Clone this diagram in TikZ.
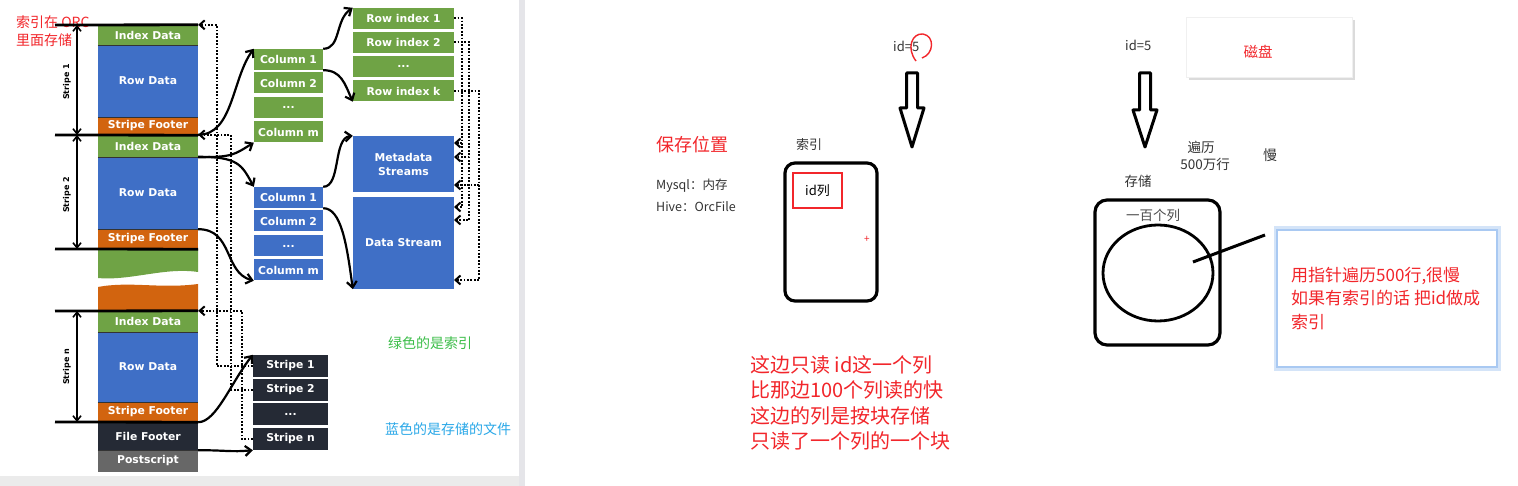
\documentclass[tikz,border=0pt]{standalone}
\usepackage{fontspec}
\newfontfamily\cjk{Noto Sans CJK SC}
\newfontfamily\orcf{DejaVu Sans}
\usepackage{tikz}
\usetikzlibrary{arrows.meta,shapes.geometric}
\definecolor{idxgreen}{HTML}{6FA345}
\definecolor{rowblue}{HTML}{3F6FC6}
\definecolor{ftorange}{HTML}{D2640F}
\definecolor{darkbox}{HTML}{252A35}
\definecolor{psgray}{HTML}{676767}
\definecolor{notered}{HTML}{F2262B}
\definecolor{notegreen}{HTML}{3DBE4A}
\definecolor{noteblue}{HTML}{2AA8E8}
\definecolor{inkgray}{HTML}{333333}
\definecolor{glowblue}{HTML}{A9C9F2}
\newcommand{\orcfont}{\orcf\bfseries\fontsize{10.8}{14}\selectfont}
\newcommand{\stripefont}{\orcf\bfseries\fontsize{8}{9}\selectfont}
\newcommand{\cjksz}[2]{\cjk\fontsize{#1}{#2}\selectfont}
\newcommand{\dnarrow}[4]{\draw[hand] (#1-5.5,#2) -- (#1+5.5,#2) -- (#1+5.5,#3) -- (#1+12,#3) -- (#1,#4) -- (#1-12,#3) -- (#1-5.5,#3) -- cycle;}
\tikzset{
  blk/.style={minimum width=100pt, inner sep=0pt, text=white, font=\orcfont},
  colbox/.style={minimum width=69pt, minimum height=21pt, inner sep=0pt, text=white, font=\orcfont},
  rixbox/.style={minimum width=101pt, minimum height=21pt, inner sep=0pt, text=white, font=\orcfont, fill=idxgreen},
  stbox/.style={minimum width=75pt, minimum height=22pt, inner sep=0pt, text=white, font=\orcfont, fill=darkbox},
  bndline/.style={line width=2.8pt},
  sepline/.style={line width=0.8pt, black!80},
  spanarr/.style={line width=1.6pt, {Straight Barb[length=5pt,width=8pt]}-{Straight Barb[length=5pt,width=8pt]}},
  curv/.style={line width=2.2pt, -{Straight Barb[length=6pt,width=10pt]}},
  ptr/.style={line width=2pt, dash pattern=on 1.8pt off 1.6pt, -{Straight Barb[length=5pt,width=9pt]}},
  hand/.style={line width=3pt, line join=round},
  say/.style={anchor=west, inner sep=0pt}
}
\begin{document}
\begin{tikzpicture}[x=1pt,y=-1pt]
\useasboundingbox (0,0) rectangle (1518,486);
\fill[white] (0,0) rectangle (1518,486);
\fill[black!8] (0,476) rectangle (520,486);
\fill[blue!12!black!10] (519,0) rectangle (525,486);

% orc file layout
\node[say, align=left, font=\cjksz{14}{18}, text=notered] (orcnote) at (16,31) {索引在 ORC\\里面存储};
\node[blk, fill=idxgreen, minimum height=20pt] (id1) at (148,35) {Index Data};
\node[blk, fill=rowblue, minimum height=72pt] (rd1) at (148,81) {Row Data};
\node[blk, fill=ftorange, minimum height=18pt] (sf1) at (148,126) {Stripe Footer};
\node[blk, fill=idxgreen, minimum height=22pt] (id2) at (148,146) {Index Data};
\node[blk, fill=rowblue, minimum height=72pt] (rd2) at (148,193) {Row Data};
\node[blk, fill=ftorange, minimum height=20pt] (sf2) at (148,239) {Stripe Footer};
\fill[idxgreen] (98,249) -- (198,249) -- (198,272) .. controls (165,267) and (130,281) .. (98,278) -- cycle;
\fill[ftorange] (98,287) .. controls (130,281) and (160,289) .. (198,284) -- (198,311) -- (98,311) -- cycle;
\node[blk, fill=idxgreen, minimum height=21pt] (idn) at (148,321.5) {Index Data};
\node[blk, fill=rowblue, minimum height=70pt] (rdn) at (148,367) {Row Data};
\node[blk, fill=ftorange, minimum height=20pt] (sfn) at (148,412) {Stripe Footer};
\node[blk, fill=darkbox, minimum height=28pt] (ff) at (148,436) {File Footer};
\node[blk, fill=psgray, minimum height=22pt] (ps) at (148,461) {Postscript};
\foreach \b in {id1,rd1,id2,rd2,idn,rdn,sfn,ff} \draw[sepline] (\b.south west) -- (\b.south east);

\coordinate (b0) at (55,25); \coordinate (b1) at (55,135); \coordinate (b2) at (55,249);
\coordinate (b3) at (55,311); \coordinate (b4) at (55,422);
\draw[bndline] (b0) -- (id1.north east);
\draw[bndline] (b1) -- (sf1.south east);
\draw[bndline] (b2) -- (sf2.south east);
\draw[bndline] (b3) -- (idn.north east);
\draw[bndline] (b4) -- (sfn.south east);
\draw[spanarr] ([xshift=22pt]b0) -- ([xshift=22pt]b1);
\draw[spanarr] ([xshift=22pt]b1) -- ([xshift=22pt]b2);
\draw[spanarr] ([xshift=22pt]b3) -- ([xshift=22pt]b4);
\node[rotate=90, font=\stripefont] (lbs1) at (67,82) {Stripe 1};
\node[rotate=90, font=\stripefont] (lbs2) at (67,195) {Stripe 2};
\node[rotate=90, font=\stripefont] (lbsn) at (67,367) {Stripe n};

% columns, streams, stripes
\node[colbox, fill=idxgreen] (gc1) at (288.5,59.5) {Column 1};
\node[colbox, fill=idxgreen] (gc2) at (288.5,83) {Column 2};
\node[colbox, fill=idxgreen] (gc3) at (288.5,107.5) {...};
\node[colbox, fill=idxgreen] (gc4) at (288.5,132) {Column m};
\node[colbox, fill=rowblue] (bc1) at (288.5,197.5) {Column 1};
\node[colbox, fill=rowblue] (bc2) at (288.5,221) {Column 2};
\node[colbox, fill=rowblue] (bc3) at (288.5,246) {...};
\node[colbox, fill=rowblue] (bc4) at (288.5,270) {Column m};
\node[rixbox] (ri1) at (403.5,18.5) {Row index 1};
\node[rixbox] (ri2) at (403.5,42.5) {Row index 2};
\node[rixbox] (ri3) at (403.5,66.5) {...};
\node[rixbox] (rik) at (403.5,91) {Row index k};
\node[blk, fill=rowblue, minimum width=101pt, minimum height=56pt, align=center] (meta) at (403.5,164) {Metadata\\Streams};
\node[blk, fill=rowblue, minimum width=101pt, minimum height=92pt] (dstr) at (403.5,243) {Data Stream};
\node[stbox] (st1) at (290.5,366) {Stripe 1};
\node[stbox] (st2) at (290.5,390) {Stripe 2};
\node[stbox] (st3) at (290.5,414) {...};
\node[stbox] (stn) at (290.5,439) {Stripe n};

\draw[curv] (id2.north east) .. controls +(35,0) and +(-22,30) .. (gc1.north west);
\draw[curv] (id2.south east) .. controls +(35,0) and +(-20,12) .. (gc4.south west);
\draw[curv] (rd2.north east) .. controls +(40,0) and +(-12,-22) .. (bc1.north west);
\draw[curv] (rd2.south east) .. controls +(35,0) and +(-30,-8) .. (bc4.south west);
\draw[curv] (gc1.north east) .. controls +(18,0) and +(-18,12) .. (ri1.north west);
\draw[curv] (gc1.south east) .. controls +(18,0) and +(-8,-18) .. (rik.south west);
\draw[curv] (bc1.north east) .. controls +(18,0) and +(-20,2) .. (meta.north west);
\draw[curv] (bc1.south east) .. controls +(18,0) and +(-6,-45) .. (dstr.south west);
\draw[curv] (sfn.south east) .. controls +(18,0) and +(-22,28) .. (st1.north west);
\draw[curv] (ff.south east) .. controls +(28,0) and +(-22,2) .. (stn.south west);

\draw[ptr] (st1.west) -- ++(-36,0) |- (id1.north east);
\draw[ptr] (st2.west) -- ++(-22,0) |- (id2.north east);
\draw[ptr] (stn.west) -- ++(-11,0) |- (idn.north east);
\coordinate (m1) at (454,143); \coordinate (m2) at (454,157); \coordinate (m3) at (454,185);
\coordinate (s1) at (454,207); \coordinate (s2) at (454,220); \coordinate (s3) at (454,280);
\draw[ptr] (ri1.east) -- ++(8,0) |- (m1);
\draw[ptr] (ri1.east) -- ++(8,0) |- (s1);
\draw[ptr] (ri2.east) -- ++(15,0) |- (m2);
\draw[ptr] (ri2.east) -- ++(15,0) |- (s2);
\draw[ptr] (rik.east) -- ++(25,0) |- (m3);
\draw[ptr] (rik.east) -- ++(25,0) |- (s3);

\node[say, font=\cjksz{14}{16}, text=notegreen] (greennote) at (388,343) {绿色的是索引};
\node[say, font=\cjksz{14}{16}, text=noteblue] (bluenote) at (385,429) {蓝色的是存储的文件};

% whiteboard: index side
\node[say, font=\cjksz{13}{15}, text=inkgray] (q1) at (893,46) {id=5};
\draw[notered, line width=1.4pt] (916,61) .. controls (906,48) and (912,33) .. (923,34) .. controls (935,36) and (934,54) .. (922,58);
\dnarrow{912}{73}{108}{147}
\node[say, font=\cjksz{18}{20}, text=notered] (savepos) at (656,145) {保存位置};
\node[say, font=\cjksz{13}{15}, text=inkgray] (idxlbl) at (796,145) {索引};
\node[say, font=\cjksz{12.5}{15}, text=inkgray] (mysql) at (656,186) {Mysql：内存};
\node[say, font=\cjksz{12.5}{15}, text=inkgray] (hive) at (656,207) {Hive：OrcFile};
\node[draw, line width=3.2pt, rounded corners=10pt, minimum width=92pt, minimum height=138pt] (idxbox) at (831,232) {};
\node[draw=notered, line width=1.6pt, minimum width=49pt, minimum height=35pt, inner sep=0pt, font=\cjksz{13}{15}] (idcol) at (817.5,190.5) {id列};
\node[text=notered, font=\cjksz{10}{12}] (plus) at (867,239) {+};
\node[say, align=left, font=\cjksz{20}{25.5}, text=notered] (expl) at (750,403) {这边只读 id这一个列\\比那边100个列读的快\\这边的列是按块存储\\只读了一个列的一个块};

% whiteboard: storage side
\node[say, font=\cjksz{13}{15}, text=inkgray] (q2) at (1125,45) {id=5};
\dnarrow{1145}{73}{110}{147}
\fill[black!14] (1189,20) rectangle (1355,80);
\node[fill=white, draw=black!6, minimum width=166pt, minimum height=60pt] (disk) at (1269,47) {};
\node[text=notered, font=\cjksz{14.5}{16}] (disklbl) at (1258,52) {磁盘};
\node[font=\cjksz{13.5}{15}, text=inkgray] (trav) at (1201,147) {遍历};
\node[font=\cjksz{13.5}{15}, text=inkgray] (rows) at (1205,164) {500万行};
\node[font=\cjksz{14}{15}, text=inkgray] (slow) at (1270,155) {慢};
\node[font=\cjksz{13.5}{15}, text=inkgray] (store) at (1138,181) {存储};
\node[draw, line width=3.2pt, rounded corners=12pt, minimum width=125pt, minimum height=145pt] (stbig) at (1157.5,272.5) {};
\node[font=\cjksz{13.5}{15}, text=black!70] (cols100) at (1153,215) {一百个列};
\node[draw, ellipse, line width=2.8pt, minimum width=110pt, minimum height=96pt, inner sep=0pt] (circ) at (1158,273) {};
\coordinate (cin) at (1193,262); \coordinate (cout) at (1265,235);
\draw[hand] (cin) -- (cout);
\node[draw=glowblue!50, line width=5pt, minimum width=222pt, minimum height=139pt] (noteglow) at (1387,298.5) {};
\node[draw=glowblue, fill=white, line width=1.6pt, minimum width=220pt, minimum height=137pt] (notebox) at (1387,298.5) {};
\node[say, align=left, font=\cjksz{17}{23.5}, text=notered] (notetxt) at (1291,298.5) {用指针遍历500行,很慢\\如果有索引的话 把id做成\\索引};
\end{tikzpicture}
\end{document}
